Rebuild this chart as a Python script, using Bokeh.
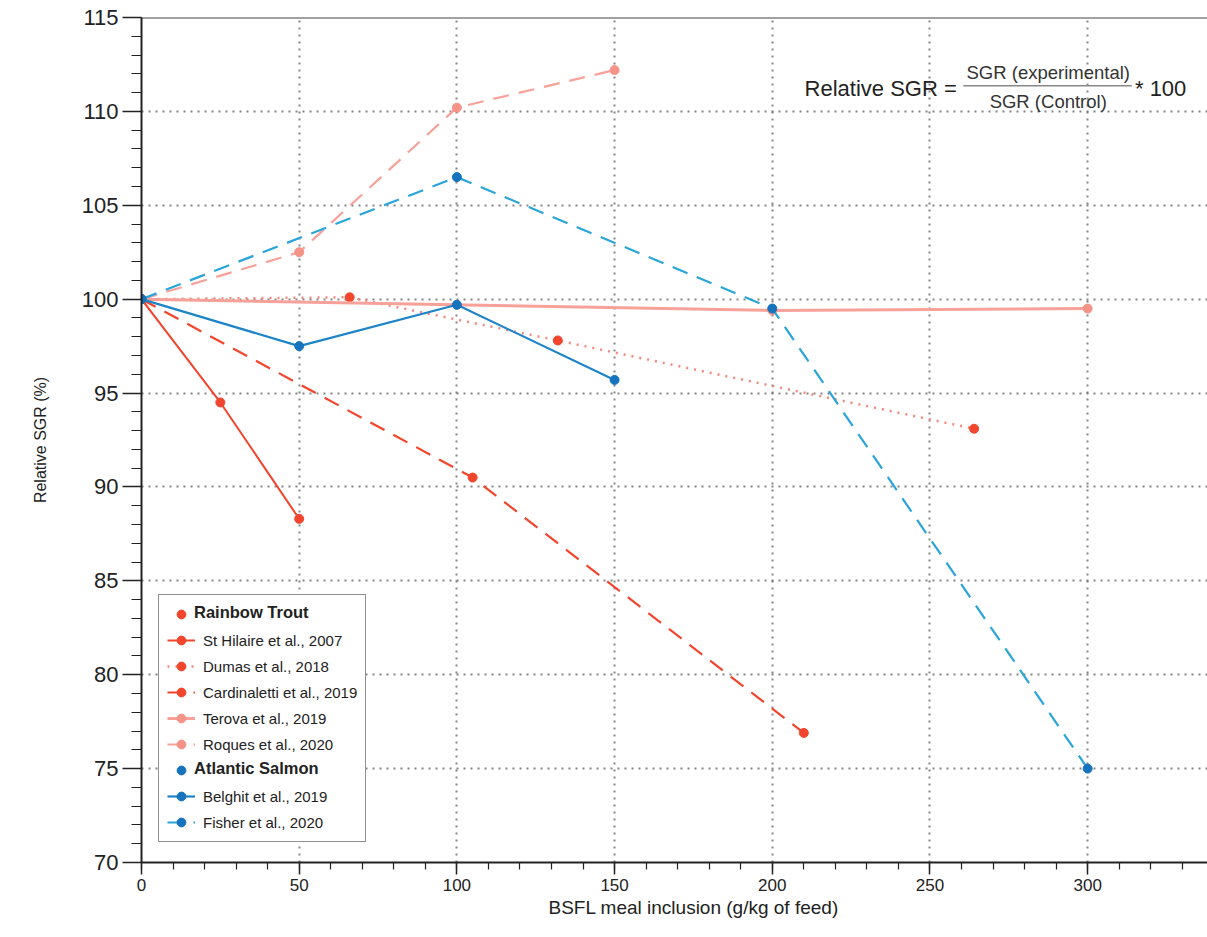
from bokeh.plotting import figure
from bokeh.models import (Legend, LegendItem, Span, Label, BoxAnnotation,
                          FixedTicker, Range1d, Title)
from bokeh.core.properties import value
from bokeh.embed import file_html
from bokeh.resources import INLINE

# ---------------- data ----------------
st_hilaire_x = [0, 25, 50]
st_hilaire_y = [100, 94.5, 88.3]
dumas_x = [0, 66, 132, 264]
dumas_y = [100, 100.1, 97.8, 93.1]
cardinaletti_x = [0, 105, 210]
cardinaletti_y = [100, 90.5, 76.9]
terova_x = [0, 200, 300]
terova_y = [100, 99.4, 99.5]
roques_x = [0, 50, 100, 150]
roques_y = [100, 102.5, 110.2, 112.2]
belghit_x = [0, 50, 100, 150]
belghit_y = [100, 97.5, 99.7, 95.7]
fisher_x = [0, 100, 200, 300]
fisher_y = [100, 106.5, 99.5, 75.0]

x_ticks = [0, 50, 100, 150, 200, 250, 300]
y_ticks = [70, 75, 80, 85, 90, 95, 100, 105, 110, 115]

# ---------------- style ----------------
RED = "#f2452d"
RED_DOT = "#f4877b"
SALMON = "#f7a198"
SALMON_M = "#f59388"
BLUE = "#1e84c8"
BLUE_M = "#1673bd"
BLUE_DASH = "#2aa5da"
SANS = "Liberation Sans"
INK = "#222222"

p = figure(width=1207, height=937, output_backend="svg", toolbar_location=None,
           x_range=Range1d(0, 338), y_range=Range1d(70, 115),
           min_border_left=141, min_border_top=17, min_border_right=0,
           min_border_bottom=75)
p.outline_line_color = None
p.background_fill_color = "white"

# axes
for ax in (p.xaxis[0], p.yaxis[0]):
    ax.axis_line_width = 2
    ax.axis_line_color = INK
    ax.major_tick_line_color = INK
    ax.major_tick_line_width = 1.5
    ax.minor_tick_line_color = INK
    ax.minor_tick_line_width = 1.2
    ax.major_tick_in = 0
    ax.minor_tick_in = 0
    ax.major_label_text_color = INK
    ax.axis_label_text_color = INK
    ax.axis_label_text_font_style = "normal"
    ax.major_label_text_font = SANS
    ax.axis_label_text_font = SANS

p.xaxis.major_tick_out = 12
p.xaxis.minor_tick_out = 7
p.yaxis.major_tick_out = 19
p.yaxis.minor_tick_out = 10

p.xaxis.ticker = FixedTicker(ticks=x_ticks, minor_ticks=list(range(0, 340, 10)))
p.yaxis.ticker = FixedTicker(ticks=y_ticks, minor_ticks=list(range(70, 116)))
p.yaxis.axis_label = "Relative SGR (%)"
p.xaxis.major_label_text_font_size = "17px"
p.yaxis.major_label_text_font_size = "22px"
p.yaxis.axis_label_text_font_size = "16px"
p.xaxis.major_label_standoff = 4
p.yaxis.major_label_standoff = 4
p.yaxis.axis_label_standoff = 30

# x axis title, placed below the axis (left-aligned with an offset like the original)
p.add_layout(Title(text="BSFL meal inclusion (g/kg of feed)", align="left", offset=407,
                   text_font=SANS, text_font_size="19px", text_font_style="normal",
                   text_color=INK, standoff=2), "below")

# grid
for g in (p.xgrid[0], p.ygrid[0]):
    g.grid_line_color = "#666666"
    g.grid_line_width = 2
    g.grid_line_dash = "2 5"
    g.grid_line_alpha = 0.8
p.xgrid.ticker = FixedTicker(ticks=x_ticks)
p.ygrid.ticker = FixedTicker(ticks=y_ticks)

# top frame line
p.add_layout(Span(location=115, dimension="width", line_color="#444444", line_width=2))

MS = 9
# legend header markers (first point only, hidden under the series' own markers)
h_rt = p.scatter(st_hilaire_x[:1], st_hilaire_y[:1], size=MS, color=RED)
h_as = p.scatter(belghit_x[:1], belghit_y[:1], size=MS, color=BLUE_M)
blank = p.scatter(st_hilaire_x[:1], st_hilaire_y[:1], size=MS, fill_alpha=0, line_alpha=0)

# Rainbow trout
l_sh = p.line(st_hilaire_x, st_hilaire_y, line_color=RED, line_width=2)
s_sh = p.scatter(st_hilaire_x, st_hilaire_y, size=MS, color=RED)
l_du = p.line(dumas_x, dumas_y, line_color=RED_DOT, line_width=2.5, line_dash="2 6")
s_du = p.scatter(dumas_x, dumas_y, size=MS, color=RED)
l_ca = p.line(cardinaletti_x, cardinaletti_y, line_color=RED, line_width=2.2, line_dash="16 10")
s_ca = p.scatter(cardinaletti_x, cardinaletti_y, size=MS, color=RED)
l_te = p.line(terova_x, terova_y, line_color=SALMON, line_width=3)
s_te = p.scatter(terova_x, terova_y, size=MS, color=SALMON_M)
l_ro = p.line(roques_x, roques_y, line_color=SALMON, line_width=2.2, line_dash="16 10")
s_ro = p.scatter(roques_x, roques_y, size=MS, color=SALMON_M)
# Atlantic salmon
l_fi = p.line(fisher_x, fisher_y, line_color=BLUE_DASH, line_width=2.2, line_dash="16 10")
s_fi = p.scatter(fisher_x, fisher_y, size=MS, color=BLUE_M)
l_be = p.line(belghit_x, belghit_y, line_color=BLUE, line_width=2.2)
s_be = p.scatter(belghit_x, belghit_y, size=MS, color=BLUE_M)

common = dict(padding=8, spacing=4, margin=0,
              label_height=22, glyph_height=22, glyph_width=28, label_standoff=8,
              label_text_font=SANS, label_text_color=INK)

legend_a = Legend(items=[
    LegendItem(label=value(""), renderers=[h_rt]),
    LegendItem(label=value("St Hilaire et al., 2007"), renderers=[l_sh, s_sh]),
    LegendItem(label=value("Dumas et al., 2018"), renderers=[l_du, s_du]),
    LegendItem(label=value("Cardinaletti et al., 2019"), renderers=[l_ca, s_ca]),
    LegendItem(label=value("Terova et al., 2019"), renderers=[l_te, s_te]),
    LegendItem(label=value("Roques et al., 2020"), renderers=[l_ro, s_ro]),
    LegendItem(label=value(""), renderers=[h_as]),
    LegendItem(label=value("Belghit et al., 2019"), renderers=[l_be, s_be]),
    LegendItem(label=value("Fisher et al., 2020"), renderers=[l_fi, s_fi]),
], location=(17, 20), border_line_color=INK, border_line_width=1.5,
   background_fill_color="white", background_fill_alpha=1,
   label_text_font_size="15px", **common)

legend_b = Legend(items=[
    LegendItem(label=value("Rainbow Trout"), renderers=[blank]),
    LegendItem(label=value(""), renderers=[blank]),
    LegendItem(label=value(""), renderers=[blank]),
    LegendItem(label=value(""), renderers=[blank]),
    LegendItem(label=value(""), renderers=[blank]),
    LegendItem(label=value(""), renderers=[blank]),
    LegendItem(label=value("Atlantic Salmon"), renderers=[blank]),
    LegendItem(label=value(""), renderers=[blank]),
    LegendItem(label=value(""), renderers=[blank]),
], location=(17, 31), border_line_color=None, background_fill_alpha=0,
   label_text_font_style="bold", label_text_font_size="16.5px", **common)

p.add_layout(legend_a)
p.add_layout(legend_b)

# formula
p.add_layout(Label(x=258.5, y=111.22, text="Relative SGR =", text_align="right",
                   text_baseline="middle", text_font=SANS, text_font_size="22px",
                   text_color=INK))
p.add_layout(Label(x=287.5, y=112.05, text="SGR (experimental)", text_align="center",
                   text_baseline="middle", text_font=SANS, text_font_size="18.5px",
                   text_color="#333333"))
p.add_layout(Label(x=287.5, y=110.55, text="SGR (Control)", text_align="center",
                   text_baseline="middle", text_font=SANS, text_font_size="18.5px",
                   text_color="#333333"))
p.add_layout(BoxAnnotation(left=260.6, right=314.0, bottom=111.33, top=111.41,
                           fill_color="#888888", fill_alpha=1, line_alpha=0))
p.add_layout(Label(x=315.0, y=111.22, text="* 100", text_align="left",
                   text_baseline="middle", text_font=SANS, text_font_size="22px",
                   text_color=INK))

open("out.html", "w").write(file_html(p, INLINE))
